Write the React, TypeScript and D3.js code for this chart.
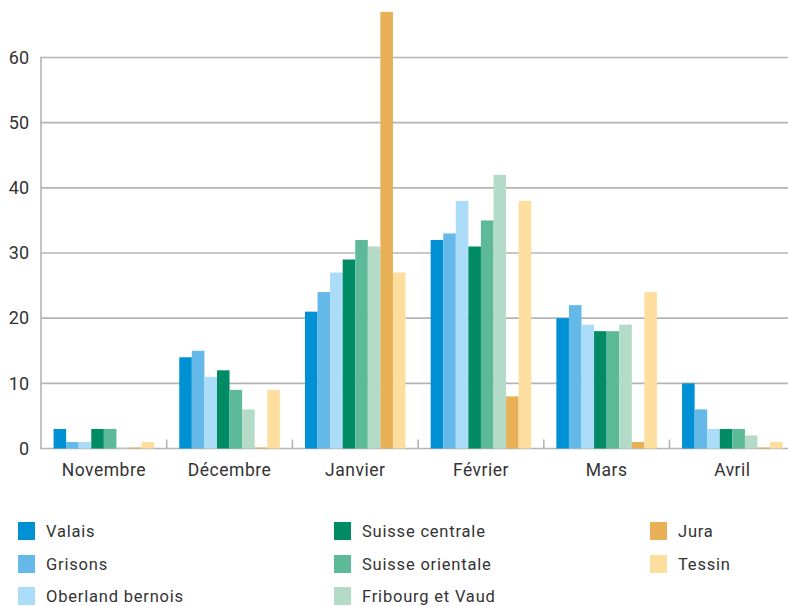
import React from "react";
import * as d3 from "d3";

const categories = ["Novembre", "Décembre", "Janvier", "Février", "Mars", "Avril"];
const seriesNames = [
  "Valais",
  "Grisons",
  "Oberland bernois",
  "Suisse centrale",
  "Suisse orientale",
  "Fribourg et Vaud",
  "Jura",
  "Tessin",
];
const seriesColors = ["#0090d4", "#65b9e9", "#abdcf8", "#008b64", "#5cba99", "#b4dbc8", "#e8b158", "#fede9e"];
const valais = [3, 14, 21, 32, 20, 10];
const grisons = [1, 15, 24, 33, 22, 6];
const oberland = [1, 11, 27, 38, 19, 3];
const centrale = [3, 12, 29, 31, 18, 3];
const orientale = [3, 9, 32, 35, 18, 3];
const fribourg = [0, 6, 31, 42, 19, 2];
const jura = [0, 0, 67, 8, 1, 0];
const tessin = [1, 9, 27, 38, 24, 1];
const seriesValues = [valais, grisons, oberland, centrale, orientale, fribourg, jura, tessin];
const yTicks = [0, 10, 20, 30, 40, 50, 60];

const W = 788;
const H = 606;
const left = 41;
const bandW = 125.7;
const y0 = 448.5;
const y60 = 57.5;
const font = "Roboto, 'DejaVu Sans', sans-serif";

export default function App() {
  const x = d3
    .scaleBand<string>()
    .domain(categories)
    .range([left, left + bandW * categories.length])
    .padding(0);
  const xs = d3
    .scaleBand<number>()
    .domain(d3.range(seriesNames.length))
    .range([0, x.bandwidth()])
    .paddingInner(0)
    .paddingOuter(1);
  const y = d3.scaleLinear().domain([0, 60]).range([y0, y60]);

  const legendCols = [18, 334, 650];
  const legendRows = [522, 555, 587];

  return (
    <svg width={W} height={H} style={{ position: "absolute", left: 0, top: 0, background: "#fff" }}>
      {yTicks.map((t) => (
        <line key={t} x1={left} x2={W} y1={y(t)} y2={y(t)} stroke="#b4b4b4" strokeWidth={1.6} />
      ))}
      <line x1={left} x2={left} y1={y(60) - 0.8} y2={y0 + 0.8} stroke="#b4b4b4" strokeWidth={1.6} />
      {categories.slice(1).map((c) => (
        <line key={c} x1={x(c)!} x2={x(c)!} y1={y0} y2={y0 - 9} stroke="#b4b4b4" strokeWidth={1.6} />
      ))}
      {categories.map((c, ci) =>
        seriesValues.map((vals, si) => {
          const v = vals[ci];
          const top = y(v);
          const h = Math.max(y0 - top, 1);
          return (
            <rect
              key={c + si}
              x={x(c)! + xs(si)!}
              y={y0 - h}
              width={xs.bandwidth()}
              height={h}
              fill={seriesColors[si]}
            />
          );
        })
      )}
      {yTicks.map((t) => (
        <text
          key={t}
          x={29}
          y={y(t)}
          dy="0.35em"
          textAnchor="end"
          fontFamily={font}
          fontSize={18}
          fill="#333"
        >
          {t}
        </text>
      ))}
      {categories.map((c) => (
        <text
          key={c}
          x={x(c)! + x.bandwidth() / 2}
          y={476}
          textAnchor="middle"
          fontFamily={font}
          fontSize={17.5}
          letterSpacing={0.5}
          fill="#333"
        >
          {c}
        </text>
      ))}
      {seriesNames.map((n, i) => {
        const col = Math.floor(i / 3);
        const row = i % 3;
        const lx = legendCols[col];
        const ly = legendRows[row];
        return (
          <g key={n}>
            <rect x={lx} y={ly} width={17} height={18} fill={seriesColors[i]} />
            <text
              x={lx + 28}
              y={ly + 9}
              dy="0.35em"
              fontFamily={font}
              fontSize={16.5}
              fill="#333"
              letterSpacing={0.8}
            >
              {n}
            </text>
          </g>
        );
      })}
    </svg>
  );
}
